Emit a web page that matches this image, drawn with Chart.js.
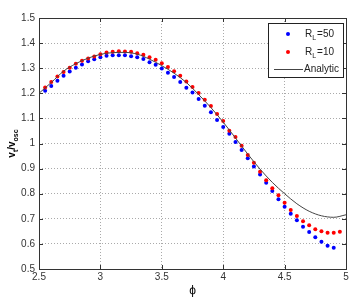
<!DOCTYPE html>
<html>
<head>
<meta charset="utf-8">
<script src="https://cdn.jsdelivr.net/npm/chart.js@4"></script>
<style>
  body { margin: 0; background: #fff; }
  canvas { display: block; }
</style>
</head>
<body>
<canvas id="c" width="355" height="300"></canvas>
<script>
// phase values for the measured points
const phi50 = [2.55, 2.6, 2.65, 2.7, 2.75, 2.8, 2.85, 2.9, 2.95, 3.0, 3.05, 3.1, 3.15, 3.2, 3.25, 3.3,
  3.35, 3.4, 3.45, 3.5, 3.55, 3.6, 3.65, 3.7, 3.75, 3.8, 3.85, 3.9, 3.95, 4.0, 4.05, 4.1, 4.15, 4.2,
  4.25, 4.3, 4.35, 4.4, 4.45, 4.5, 4.55, 4.6, 4.65, 4.7, 4.75, 4.8, 4.85, 4.9];
const rl50 = [1.210, 1.229, 1.250, 1.270, 1.287, 1.302, 1.315, 1.328, 1.336, 1.344, 1.350, 1.352, 1.352,
  1.352, 1.348, 1.344, 1.337, 1.324, 1.314, 1.299, 1.282, 1.265, 1.245, 1.222, 1.203, 1.177, 1.150,
  1.125, 1.094, 1.066, 1.039, 1.006, 0.974, 0.941, 0.908, 0.876, 0.844, 0.811, 0.778, 0.748, 0.720,
  0.694, 0.668, 0.647, 0.626, 0.609, 0.593, 0.585];

const phi10 = [2.55, 2.6, 2.65, 2.7, 2.75, 2.8, 2.85, 2.9, 2.95, 3.0, 3.05, 3.1, 3.15, 3.2, 3.25, 3.3,
  3.35, 3.4, 3.45, 3.5, 3.55, 3.6, 3.65, 3.7, 3.75, 3.8, 3.85, 3.9, 3.95, 4.0, 4.05, 4.1, 4.15, 4.2,
  4.25, 4.3, 4.35, 4.4, 4.45, 4.5, 4.55, 4.6, 4.65, 4.7, 4.75, 4.8, 4.85, 4.9, 4.95];
const rl10 = [1.223, 1.245, 1.267, 1.285, 1.302, 1.318, 1.330, 1.339, 1.347, 1.356, 1.363, 1.366, 1.368,
  1.367, 1.366, 1.360, 1.354, 1.344, 1.334, 1.320, 1.305, 1.288, 1.270, 1.247, 1.225, 1.201, 1.174,
  1.149, 1.118, 1.090, 1.051, 1.026, 0.991, 0.954, 0.923, 0.887, 0.854, 0.822, 0.794, 0.764, 0.735,
  0.711, 0.690, 0.674, 0.658, 0.650, 0.644, 0.644, 0.648];

// analytic curve
const phiAn = [2.5, 2.6, 2.7, 2.8, 2.9, 3.0, 3.1, 3.2, 3.3, 3.4, 3.5, 3.6, 3.7, 3.8, 3.9, 4.0, 4.1, 4.2,
  4.3, 4.4, 4.5, 4.6, 4.7, 4.8, 4.9, 5.0];
const analytic = [1.200, 1.243, 1.288, 1.318, 1.340, 1.355, 1.362, 1.363, 1.356, 1.336, 1.310, 1.280,
  1.243, 1.195, 1.143, 1.085, 1.022, 0.958, 0.898, 0.845, 0.800, 0.760, 0.730, 0.712, 0.706, 0.716];

const xTicks = [2.5, 3, 3.5, 4, 4.5, 5];
const yTicks = [0.5, 0.6, 0.7, 0.8, 0.9, 1, 1.1, 1.2, 1.3, 1.4, 1.5];

const FONT = '"Liberation Sans", Arial, sans-serif';
const pts = (xs, ys) => xs.map((x, i) => ({ x: x, y: ys[i] }));

// рамка, внутренние засечки, подписи осей и легенда в стиле MATLAB
const decor = {
  id: 'decor',
  afterDraw(chart) {
    const ctx = chart.ctx;
    const a = chart.chartArea;
    const sx = chart.scales.x, sy = chart.scales.y;
    ctx.save();
    ctx.strokeStyle = '#333';
    ctx.lineWidth = 1;
    ctx.strokeRect(a.left + 0.5, a.top + 0.5, a.right - a.left, a.bottom - a.top);
    ctx.beginPath();
    xTicks.forEach(v => {
      const p = Math.round(sx.getPixelForValue(v)) + 0.5;
      ctx.moveTo(p, a.bottom); ctx.lineTo(p, a.bottom - 4);
      ctx.moveTo(p, a.top); ctx.lineTo(p, a.top + 4);
    });
    yTicks.forEach(v => {
      const p = Math.round(sy.getPixelForValue(v)) + 0.5;
      ctx.moveTo(a.left, p); ctx.lineTo(a.left + 4, p);
      ctx.moveTo(a.right, p); ctx.lineTo(a.right - 4, p);
    });
    ctx.stroke();

    // y title: v_t / v_osc
    ctx.fillStyle = '#000';
    ctx.translate(12, (a.top + a.bottom) / 2);
    ctx.rotate(-Math.PI / 2);
    const parts = [['v', 10, 0], ['t', 7, 3], ['/v', 10, 0], ['osc', 7, 3]];
    ctx.font = 'bold 10px ' + FONT;
    let w = 0;
    parts.forEach(p => { ctx.font = 'bold ' + p[1] + 'px ' + FONT; w += ctx.measureText(p[0]).width; });
    let x = -w / 2;
    ctx.textBaseline = 'alphabetic';
    parts.forEach(p => {
      ctx.font = 'bold ' + p[1] + 'px ' + FONT;
      ctx.fillText(p[0], x, 3 + p[2]);
      x += ctx.measureText(p[0]).width;
    });
    ctx.restore();

    // x title
    ctx.save();
    ctx.fillStyle = '#000';
    ctx.font = '12px ' + FONT;
    ctx.textAlign = 'center';
    ctx.textBaseline = 'middle';
    ctx.fillText('\u03D5', (a.left + a.right) / 2, 291);
    ctx.restore();

    // legend
    ctx.save();
    const L = 268.5, T = 23.5, R = 343.5, B = 77.5;
    ctx.fillStyle = '#fff';
    ctx.fillRect(L, T, R - L, B - T);
    ctx.strokeStyle = '#222';
    ctx.strokeRect(L, T, R - L, B - T);
    const rows = [
      { y: 34, color: '#0000ff', val: '=50' },
      { y: 52, color: '#ff0000', val: '=10' }
    ];
    ctx.fillStyle = '#222';
    rows.forEach(r => {
      ctx.fillStyle = r.color;
      ctx.beginPath(); ctx.arc(288, r.y, 2, 0, Math.PI * 2); ctx.fill();
      ctx.fillStyle = '#222';
      ctx.textBaseline = 'middle';
      ctx.font = '10px ' + FONT;
      ctx.fillText('R', 305, r.y);
      const rw = ctx.measureText('R').width;
      ctx.font = '7px ' + FONT;
      ctx.fillText('L', 305 + rw, r.y + 4);
      const lw = ctx.measureText('L').width;
      ctx.font = '10px ' + FONT;
      ctx.fillText(r.val, 305 + rw + lw + 1, r.y);
    });
    ctx.strokeStyle = '#444';
    ctx.beginPath(); ctx.moveTo(274, 69.5); ctx.lineTo(303, 69.5); ctx.stroke();
    ctx.font = '10px ' + FONT;
    ctx.fillText('Analytic', 304, 69);
    ctx.restore();
  }
};

new Chart(document.getElementById('c'), {
  type: 'scatter',
  data: {
    datasets: [
      {
        label: 'Analytic',
        type: 'line',
        data: pts(phiAn, analytic),
        borderColor: '#444',
        borderWidth: 1,
        pointRadius: 0,
        tension: 0.4,
        cubicInterpolationMode: 'monotone',
        fill: false
      },
      {
        label: 'RL=10',
        data: pts(phi10, rl10),
        backgroundColor: '#ff0000',
        borderColor: '#ff0000',
        pointRadius: 2,
        borderWidth: 0
      },
      {
        label: 'RL=50',
        data: pts(phi50, rl50),
        backgroundColor: '#0000ff',
        borderColor: '#0000ff',
        pointRadius: 2,
        borderWidth: 0
      }
    ]
  },
  options: {
    responsive: false,
    animation: false,
    layout: { padding: { top: 18, right: 9, left: 0, bottom: 0 } },
    plugins: { legend: { display: false }, tooltip: { enabled: false } },
    scales: {
      x: {
        type: 'linear',
        min: 2.5, max: 5,
        afterBuildTicks: s => { s.ticks = xTicks.map(v => ({ value: v })); },
        afterFit: s => { s.height = 31; },
        ticks: {
          color: '#333', font: { family: FONT, size: 10 }, padding: 2,
          maxRotation: 0, callback: v => String(v)
        },
        grid: { color: '#aaa', tickLength: 0, drawTicks: false },
        border: { display: false, dash: [1, 2] }
      },
      y: {
        type: 'linear',
        min: 0.5, max: 1.5,
        afterBuildTicks: s => { s.ticks = yTicks.map(v => ({ value: v })); },
        afterFit: s => { s.width = 39; },
        ticks: {
          color: '#333', font: { family: FONT, size: 10 }, padding: 4,
          callback: v => String(Math.round(v * 10) / 10)
        },
        grid: { color: '#aaa', tickLength: 0, drawTicks: false },
        border: { display: false, dash: [1, 2] }
      }
    }
  },
  plugins: [decor]
});
</script>
</body>
</html>
